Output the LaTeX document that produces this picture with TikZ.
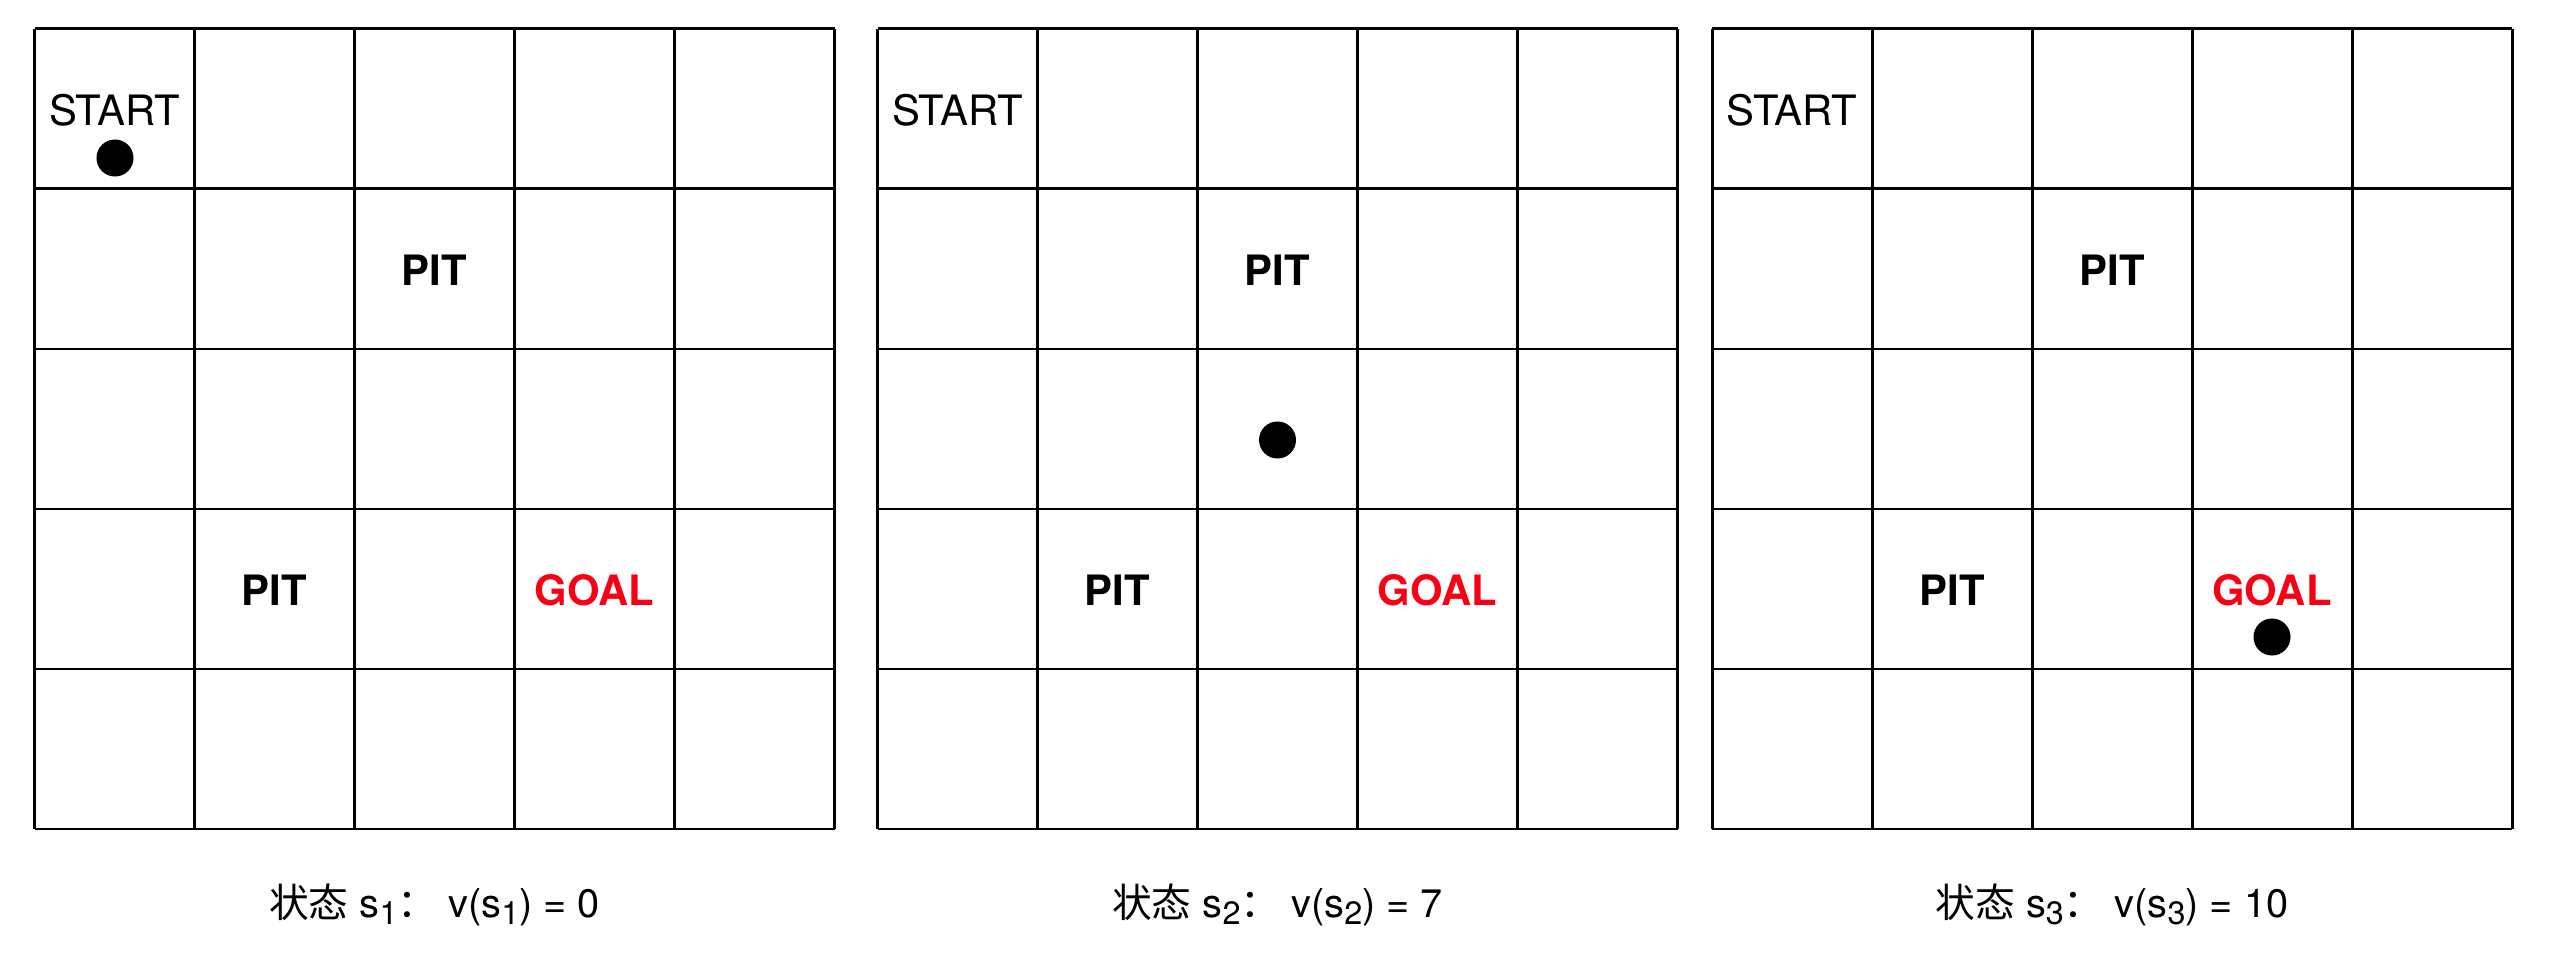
\documentclass[tikz,border=0pt]{standalone}
\usepackage{fontspec}
\setsansfont{TeX Gyre Heros}
\newfontfamily\cjk{Noto Sans CJK SC}
\usetikzlibrary{positioning}
\definecolor{goalred}{RGB}{250, 0, 20}
\newcommand{\lowidx}[1]{\raisebox{-0.35ex}{\fontsize{9.2}{10}\selectfont #1}}

\begin{document}
\begin{tikzpicture}[
  x=0.01cm, y=-0.01cm,
  gridline/.style={line width=0.85pt},
  cellname/.style={anchor=base, inner sep=0pt, font=\sffamily\fontsize{11.9}{13}\selectfont},
  pit/.style={anchor=base, inner sep=0pt, font=\sffamily\bfseries\fontsize{11.9}{13}\selectfont},
  goal/.style={pit, text=goalred},
  agent/.style={circle, fill=black, inner sep=0pt, minimum size=3.7mm},
  caption/.style={anchor=base, inner sep=0pt, font=\sffamily\fontsize{11.3}{13}\selectfont}
]
  \useasboundingbox (0,0) rectangle (2550,964);
  % three 5x5 boards
  \foreach \g/\ox/\val in {1/34.5/0, 2/877.5/7, 3/1712/10} {
    \foreach \i in {0,...,5} {
      \draw[gridline] (\ox+160*\i,29) -- (\ox+160*\i,829);
      \draw[gridline] (\ox,29+160*\i) -- (\ox+800,29+160*\i);
    }
    \node[cellname] (start\g) at (\ox+80,126) {START};
    \node[pit] (pitA\g) at (\ox+400,286) {PIT};
    \node[pit] (pitB\g) at (\ox+240,606) {PIT};
    \node[goal] (goal\g) at (\ox+560,606) {GOAL};
    \node[caption] (cap\g) at (\ox+400,917)
      {{\cjk 状态} s\lowidx{\g}{\cjk ：} v(s\lowidx{\g}) = \val};
  }
  % agent position on each board
  \node[agent] (agent1) at (115,158) {};
  \node[agent] (agent2) at (1277.5,440) {};
  \node[agent] (agent3) at (2272,637) {};
\end{tikzpicture}
\end{document}
